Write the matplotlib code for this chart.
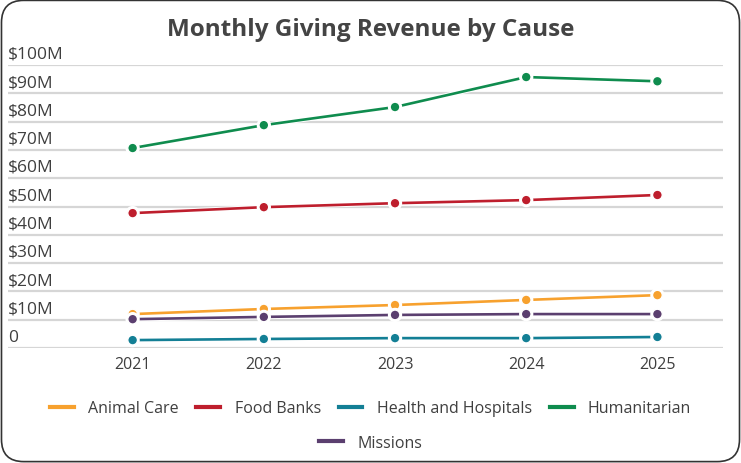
import matplotlib
matplotlib.use("Agg")
import matplotlib.pyplot as plt
import matplotlib.patheffects as pe
from matplotlib.patches import FancyBboxPatch
from matplotlib.lines import Line2D
from matplotlib.transforms import blended_transform_factory

plt.rcParams['font.family'] = ['Open Sans', 'DejaVu Sans']

# revenue in $M per year
years = [2021, 2022, 2023, 2024, 2025]
animal_care = [12.0, 13.8, 15.2, 17.0, 18.7]
food_banks = [47.7, 49.8, 51.2, 52.3, 54.1]
health_hospitals = [2.8, 3.2, 3.5, 3.5, 3.9]
humanitarian = [70.7, 78.8, 85.2, 95.8, 94.3]
missions = [10.2, 11.0, 11.7, 12.0, 12.0]

series = [
    ("Animal Care", animal_care, "#F7A12E"),
    ("Food Banks", food_banks, "#BE1E2D"),
    ("Health and Hospitals", health_hospitals, "#137F95"),
    ("Humanitarian", humanitarian, "#0F8C4E"),
    ("Missions", missions, "#5B3F6F"),
]
y_ticks = [0, 10, 20, 30, 40, 50, 60, 70, 80, 90, 100]
y_labels = ["0"] + [f"${v}M" for v in y_ticks[1:]]

fig = plt.figure(figsize=(7.41, 4.64), dpi=100)
ax = fig.add_axes([0.0108, 0.2478, 0.9649, 0.6096])

# outer rounded frame
frame = FancyBboxPatch((0.002, 0.003), 0.996, 0.994, transform=fig.transFigure,
                       boxstyle="round,pad=0,rounding_size=0.03",
                       mutation_aspect=741 / 464, facecolor="white",
                       edgecolor="#333333", linewidth=1.2, zorder=-10)
fig.patches.append(frame)

for name, vals, color in series:
    ax.plot(years, vals, color=color, lw=1.9, marker="o", markersize=7,
            markeredgecolor="white", markeredgewidth=1.0, clip_on=False,
            path_effects=[pe.Stroke(linewidth=3.3, foreground="white"), pe.Normal()],
            zorder=3)

ax.set_xlim(2020.05, 2025.5)
ax.set_ylim(0, 100)
ax.set_yticks(y_ticks)
ax.set_yticklabels([])
ax.tick_params(axis="y", length=0)
ax.set_xticks(years)
ax.set_xticklabels([str(y) for y in years], fontsize=11.5, color="#3f3f3f")
ax.tick_params(axis="x", length=0, pad=6)
ax.grid(axis="y", color="#d6d6d6", lw=1.6)
ax.set_axisbelow(True)
for s in ax.spines.values():
    s.set_visible(False)
ax.patch.set_alpha(0)

trans = blended_transform_factory(ax.transAxes, ax.transData)
for v, lab in zip(y_ticks, y_labels):
    ax.text(0.0, v + 1.2, lab, transform=trans, ha="left", va="bottom",
            fontsize=12.5, color="#3f3f3f")

fig.text(0.5, 0.935, "Monthly Giving Revenue by Cause", ha="center", va="center",
         fontsize=17.5, fontweight="bold", color="#444444")

handles = [Line2D([], [], color=c, lw=3) for _, _, c in series]
names = [n for n, _, _ in series]
fig.legend(handles[:4], names[:4], loc="center", bbox_to_anchor=(0.5, 0.118),
           ncol=4, frameon=False, fontsize=11.5, handlelength=1.5,
           columnspacing=1.1, handletextpad=0.9, labelcolor="#3f3f3f")
fig.legend(handles[4:], names[4:], loc="center", bbox_to_anchor=(0.5, 0.043),
           ncol=1, frameon=False, fontsize=11.5, handlelength=1.5,
           handletextpad=0.9, labelcolor="#3f3f3f")

fig.savefig("out.png", dpi=100, facecolor="white")
